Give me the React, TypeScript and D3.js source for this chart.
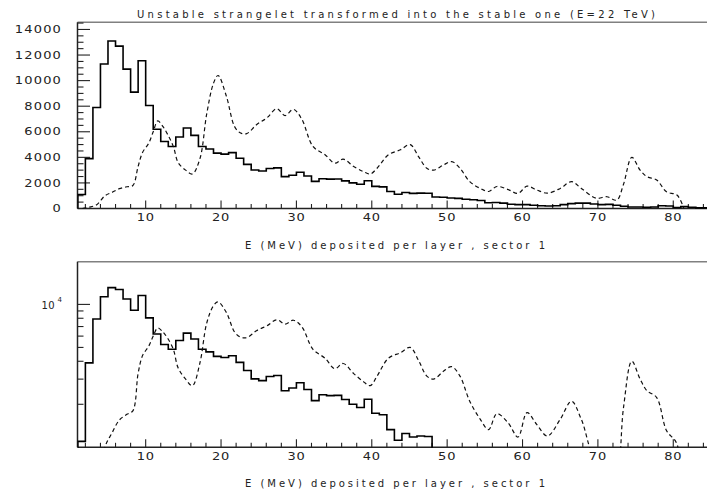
import React from 'react';
import * as d3 from 'd3';

const W = 707;
const H = 492;

// Solid histogram: bin contents for 1 MeV bins starting at E = 1
const binStartE = 1;
const solidCounts = [
  1100, 3900, 7900, 11300, 13100, 12700, 10900, 9100, 11550, 8050,
  6200, 5240, 4850, 5590, 6300, 5720, 4850, 4650, 4330, 4250,
  4370, 3930, 3450, 3010, 2930, 3130, 3180, 2490, 2600, 2830,
  2540, 2120, 2330, 2300, 2310, 2160, 2000, 1900, 2170, 1730,
  1690, 1330, 1120, 1250, 1180, 1200, 1190, 900, 880, 820,
  790, 720, 680, 620, 450, 470, 420, 330, 300, 300,
  250, 220, 200, 220, 300, 380, 420, 420, 350, 300,
  320, 250, 180, 120, 120, 100, 120, 220, 200, 80,
  150, 100, 50, 50,
];

// Dashed smooth curve (energy, counts)
const curveE = [
  1.6, 2.5, 3.5, 4.6, 5.5, 6.5, 7.5, 8.3, 9.0, 9.6, 10.4, 11.0, 11.6, 12.3, 13.0,
  13.7, 14.3, 15.3, 16.2, 17.2, 18.1, 19.0, 19.6, 20.7, 21.8, 22.6, 23.4, 24.7,
  26.1, 27.4, 28.5, 29.6, 30.7, 32.2, 33.8, 35.1, 36.2, 37.6, 38.9, 39.8, 40.7,
  42.2, 43.8, 45.1, 46.2, 47.3, 48.2, 49.5, 50.6, 51.7, 53.0, 54.4, 55.5, 56.6,
  58.1, 59.4, 60.6, 61.9, 63.3, 65.0, 66.5, 67.8, 69.8, 71.2, 72.5, 73.4, 74.5,
  75.6, 76.5, 77.8, 79.1, 80.5, 81.4,
];
const curveCounts = [
  0, 100, 300, 1000, 1250, 1550, 1700, 1800, 3300, 4400, 5100, 6000, 6850, 6400, 5700,
  4800, 3600, 3000, 2700, 3900, 7400, 9800, 10400, 8800, 6400, 5900, 5850, 6550,
  7100, 7800, 7270, 7750, 7000, 4850, 4200, 3550, 3860, 3280, 2880, 2700, 3150,
  4200, 4590, 5000, 4060, 3150, 3000, 3400, 3670, 3150, 2100, 1570, 1330, 1720,
  1480, 1180, 1750, 1440, 1200, 1570, 2100, 1570, 800, 920, 660, 1900, 4000,
  3000, 2490, 2230, 1310, 1050, 0,
];

const xTickLabels = [10, 20, 30, 40, 50, 60, 70, 80];
const yTickLabelsTop = [0, 2000, 4000, 6000, 8000, 10000, 12000, 14000];
const yLogMinorTicks = [2000, 3000, 4000, 5000, 6000, 7000, 8000, 9000];
const titleText = 'Unstable strangelet transformed into the stable one (E=22 TeV)';
const xTitleText = 'E (MeV) deposited per layer , sector 1';

const FONT = '"DejaVu Sans", sans-serif';

const xScale = d3.scaleLinear().domain([1, 85]).range([77.84, 710.95]);
const yTop = d3.scaleLinear().domain([0, 14560]).range([208.5, 22.3]);
const yBot = d3.scaleLog().domain([1000, 19900]).range([447.3, 261.7]);

const LEFT = 77.5;

type Pt = { e: number; v: number };

function solidPoints(): Pt[] {
  const pts: Pt[] = [{ e: binStartE, v: 0 }];
  solidCounts.forEach((c, i) => pts.push({ e: binStartE + i, v: c }));
  pts.push({ e: binStartE + solidCounts.length, v: solidCounts[solidCounts.length - 1] });
  return pts;
}

const dashedPts: Pt[] = curveE.map((e, i) => ({ e, v: curveCounts[i] }));

function Panel({ yScale, log, clipId }: { yScale: any; log: boolean; clipId: string }) {
  const [y0, y1] = yScale.range();
  const bottom = y0;
  const top = y1;
  const yOf = (v: number) => {
    if (log) return v < 1000 ? bottom + 30 : yScale(v);
    return yScale(v);
  };
  const stepLine = d3
    .line<Pt>()
    .x((d) => xScale(d.e))
    .y((d) => yOf(d.v))
    .curve(d3.curveStepAfter);
  const smoothLine = d3
    .line<Pt>()
    .x((d) => xScale(d.e))
    .y((d) => (log ? yScale(Math.max(d.v, 200)) : yScale(d.v)))
    .curve(d3.curveCatmullRom.alpha(0.5));

  const xTicks = d3.range(2, 85, 2);
  const tickFont = 10;

  return (
    <g>
      <defs>
        <clipPath id={clipId}>
          <rect x={LEFT} y={top} width={W - LEFT} height={bottom - top + 0.5} />
        </clipPath>
      </defs>
      {/* frame */}
      <line x1={LEFT} x2={W} y1={top} y2={top} stroke="#808080" strokeWidth={1.6} />
      <line x1={LEFT} x2={LEFT} y1={top} y2={bottom} stroke="#222" strokeWidth={1.5} />
      <line x1={LEFT} x2={W} y1={bottom} y2={bottom} stroke="#222" strokeWidth={1.5} />
      {/* x ticks */}
      {xTicks.map((t) => (
        <line
          key={'xt' + t}
          x1={xScale(t)}
          x2={xScale(t)}
          y1={bottom}
          y2={bottom - (t % 10 === 0 ? 8 : 4.5)}
          stroke="#222"
          strokeWidth={1.1}
        />
      ))}
      {xTickLabels.map((t) => (
        <text
          key={'xl' + t}
          transform={`translate(${xScale(t)},${bottom + 12.3}) scale(1.3,1)`}
          textAnchor="middle"
          fontFamily={FONT}
          fontSize={tickFont}
          fill="#222"
          letterSpacing={0.6}
        >
          {t}
        </text>
      ))}
      {/* y ticks */}
      {!log &&
        d3.range(0, 14501, 500).map((t) => (
          <line
            key={'yt' + t}
            x1={LEFT}
            x2={LEFT + (t % 2000 === 0 ? 12.5 : 6)}
            y1={yScale(t)}
            y2={yScale(t)}
            stroke="#222"
            strokeWidth={1.1}
          />
        ))}
      {!log &&
        yTickLabelsTop.map((t) => (
          <text
            key={'yl' + t}
            transform={`translate(62,${yScale(t) + 3.7}) scale(1.3,1)`}
            textAnchor="end"
            fontFamily={FONT}
            fontSize={tickFont}
            fill="#222"
            letterSpacing={0.9}
          >
            {t}
          </text>
        ))}
      {log && (
        <g>
          {yLogMinorTicks.map((t) => (
            <line
              key={'ylt' + t}
              x1={LEFT}
              x2={LEFT + 6}
              y1={yScale(t)}
              y2={yScale(t)}
              stroke="#222"
              strokeWidth={1.1}
            />
          ))}
          <line
            x1={LEFT}
            x2={LEFT + 12.5}
            y1={yScale(10000)}
            y2={yScale(10000)}
            stroke="#222"
            strokeWidth={1.1}
          />
          <text
            transform={`translate(41.5,${yScale(10000) + 4.5})`}
            fontFamily={FONT}
            fontSize={tickFont}
            fill="#222"
            letterSpacing={0.5}
          >
            10
          </text>
          <text
            x={57.5}
            y={yScale(10000) - 2}
            fontFamily={FONT}
            fontSize={7}
            fill="#222"
          >
            4
          </text>
        </g>
      )}
      {/* data */}
      <g clipPath={`url(#${clipId})`}>
        <path d={stepLine(solidPoints()) || ''} fill="none" stroke="#000" strokeWidth={1.6} />
        <path
          d={smoothLine(dashedPts) || ''}
          fill="none"
          stroke="#111"
          strokeWidth={1.2}
          strokeDasharray="4 3"
        />
      </g>
      {/* x title */}
      <text
        x={245}
        y={bottom + 40}
        fontFamily={FONT}
        fontSize={10}
        fill="#222"
        textLength={300}
        lengthAdjust="spacing"
      >
        {xTitleText}
      </text>
    </g>
  );
}

export default function App() {
  return (
    <svg
      width={W}
      height={H}
      viewBox={`0 0 ${W} ${H}`}
      style={{ position: 'absolute', left: 0, top: 0, background: '#fff' }}
    >
      <rect x={0} y={0} width={W} height={H} fill="#fff" />
      <text
        x={137}
        y={18}
        fontFamily={FONT}
        fontSize={10}
        fill="#222"
        textLength={518}
        lengthAdjust="spacing"
      >
        {titleText}
      </text>
      <Panel yScale={yTop} log={false} clipId="clipTop" />
      <Panel yScale={yBot} log={true} clipId="clipBot" />
    </svg>
  );
}
